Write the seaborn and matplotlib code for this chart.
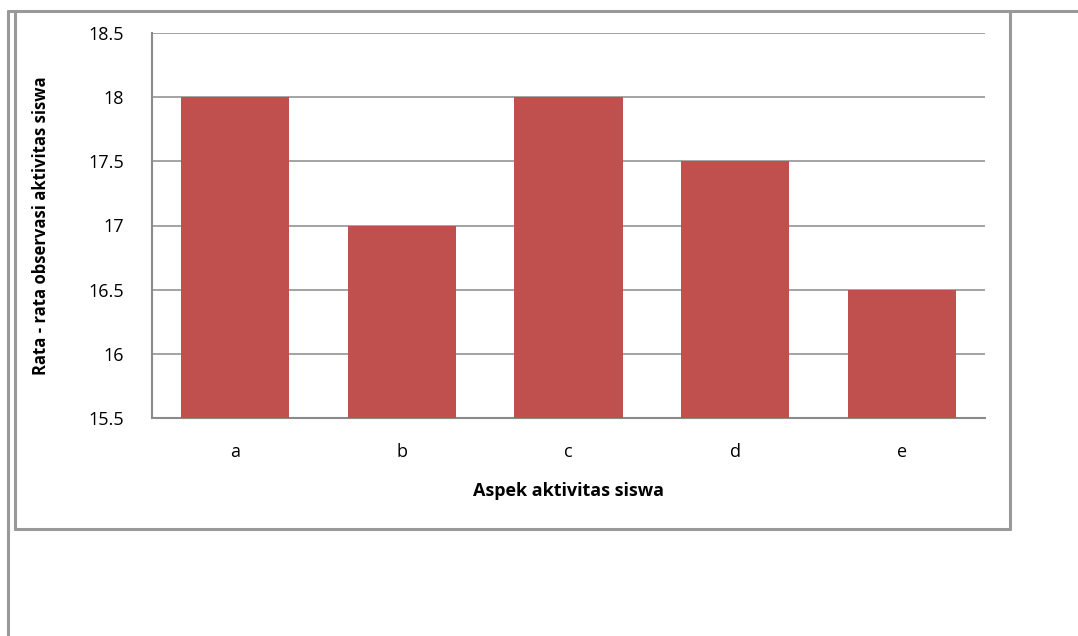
import matplotlib
matplotlib.use("Agg")
import matplotlib.pyplot as plt
from matplotlib.lines import Line2D
from matplotlib.ticker import FuncFormatter, MultipleLocator
import seaborn as sns
import pandas as pd

aspek = ["a", "b", "c", "d", "e"]
rata_rata = [18.0, 17.0, 18.0, 17.5, 16.5]

sns.set_theme(style="white")
plt.rcParams["font.family"] = ["Open Sans", "DejaVu Sans"]

W, H = 1078, 636
fig = plt.figure(figsize=(W / 100, H / 100), dpi=100)
fig.patch.set_facecolor("white")

ax = fig.add_axes([152 / W, 1 - 418 / H, (985 - 152) / W, (418 - 33) / H])

df = pd.DataFrame({"aspek": aspek, "nilai": rata_rata})
sns.barplot(data=df, x="aspek", y="nilai", color="#C0504D", saturation=1,
            width=0.65, linewidth=0, ax=ax, zorder=3)

ax.set_ylim(15.5, 18.5)
ax.yaxis.set_major_locator(MultipleLocator(0.5))
ax.yaxis.set_major_formatter(FuncFormatter(lambda v, p: f"{v:g}"))
ax.grid(axis="y", color="#8a8a8a", linewidth=1.1, zorder=0)
ax.grid(axis="x", visible=False)
ax.set_axisbelow(True)

for side in ("top", "right"):
    ax.spines[side].set_visible(False)
for side in ("left", "bottom"):
    ax.spines[side].set_color("#8a8a8a")
    ax.spines[side].set_linewidth(1.5)

ax.tick_params(axis="y", length=0, pad=20, labelsize=13, labelcolor="black")
ax.tick_params(axis="x", length=0, pad=18, labelsize=13, labelcolor="black")

ax.set_xlabel("Aspek aktivitas siswa", fontsize=13, fontweight="bold",
              labelpad=15, color="black")
ax.set_ylabel("Rata - rata observasi aktivitas siswa", fontsize=12,
              fontweight="bold", labelpad=28, color="black")

# frame lines around the chart area
frame_color = "#999999"
def fig_line(x0, y0, x1, y1):
    fig.add_artist(Line2D([x0 / W, x1 / W], [1 - y0 / H, 1 - y1 / H],
                          color=frame_color, linewidth=2.2,
                          transform=fig.transFigure))

fig_line(8, 11, W, 11)
fig_line(8, 11, 8, H)
fig_line(15, 11, 15, 529)
fig_line(15, 529, 1010, 529)
fig_line(1010, 11, 1010, 529)

fig.savefig("out.png", dpi=100)
